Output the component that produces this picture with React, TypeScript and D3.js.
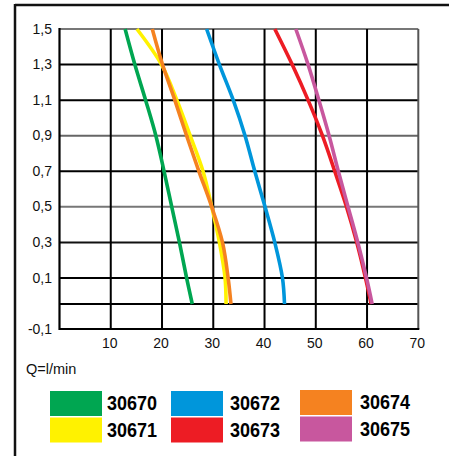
import React from "react";
import * as d3 from "d3";

const xTicks = [10, 20, 30, 40, 50, 60, 70];
const yTicks = [1.5, 1.3, 1.1, 0.9, 0.7, 0.5, 0.3, 0.1, -0.1];
const yTickLabels = ["1,5", "1,3", "1,1", "0,9", "0,7", "0,5", "0,3", "0,1", "-0,1"];
const gridY = [1.5, 1.3, 1.1, 0.9, 0.7, 0.5, 0.3, 0.1, 0];
const gridYColors = ["#777", "#000", "#000", "#666", "#000", "#777", "#111", "#000", "#000"];
const xLabel = "Q=l/min";

const heads = [0, 0.1, 0.3, 0.5, 0.7, 0.9, 1.1, 1.3, 1.5];

const q30670 = [25.9, 24.8, 23.4, 21.9, 20.4, 18.8, 16.8, 14.7, 12.8];
const q30671 = [32.5, 32.3, 31.2, 29.7, 28.0, 25.5, 22.9, 19.9, 15.1];
const q30672 = [43.9, 43.5, 42.0, 40.1, 38.1, 36.2, 33.9, 31.2, 28.7];
const q30673 = [60.8, 59.7, 58.0, 56.0, 53.7, 51.3, 48.5, 45.4, 42.0];
const q30674 = [33.45, 32.9, 31.8, 29.7, 27.2, 24.8, 22.5, 20.1, 18.1];
const q30675 = [61.0, 59.9, 58.2, 56.3, 54.4, 52.6, 50.6, 48.5, 46.1];

const seriesNames = ["30670", "30671", "30672", "30673", "30674", "30675"];
const seriesColors = ["#00A651", "#FFF200", "#0096DB", "#ED1C24", "#F58220", "#C8579E"];
const seriesData = [q30670, q30671, q30672, q30673, q30674, q30675];
const drawOrder = [0, 1, 2, 3, 4, 5];

export default function App() {
  const x = d3.scaleLinear().domain([0, 70]).range([59.5, 418.3]);
  const y = d3.scaleLinear().domain([-0.1, 0, 0.1, 1.5]).range([329, 304, 278, 29]);

  const line = d3
    .line<[number, number]>()
    .x((d) => x(d[0]))
    .y((d) => y(d[1]))
    .curve(d3.curveCatmullRom.alpha(0.5));

  const legendPos = [
    { sx: 50, sy: 391, tx: 107, ty: 410 },
    { sx: 50, sy: 417.5, tx: 107, ty: 436.5 },
    { sx: 171, sy: 391, tx: 230, ty: 410 },
    { sx: 171, sy: 417.5, tx: 230, ty: 436.5 },
    { sx: 300, sy: 390, tx: 360, ty: 409 },
    { sx: 300, sy: 416.5, tx: 360, ty: 436 },
  ];

  return (
    <svg
      width={449}
      height={456}
      style={{ position: "absolute", left: 0, top: 0 }}
      fontFamily="'Liberation Sans', Arial, sans-serif"
    >
      <rect x={0} y={0} width={449} height={456} fill="#fff" />
      <line x1={15} x2={449} y1={5} y2={5} stroke="#111" strokeWidth={2.5} />
      <line x1={15} x2={15} y1={4} y2={456} stroke="#111" strokeWidth={2.5} />

      {gridY.map((v, i) => (
        <line
          key={"h" + i}
          x1={x(0)}
          x2={x(70)}
          y1={y(v)}
          y2={y(v)}
          stroke={gridYColors[i]}
          strokeWidth={2}
        />
      ))}
      {xTicks.map((t) => (
        <line
          key={"v" + t}
          x1={x(t)}
          x2={x(t)}
          y1={y(1.5)}
          y2={y(-0.1)}
          stroke={t === 70 ? "#555" : "#000"}
          strokeWidth={2}
        />
      ))}
      <line x1={x(0)} x2={x(0)} y1={y(1.5) - 1} y2={y(-0.1) + 1} stroke="#000" strokeWidth={2.2} />
      <line x1={x(0)} x2={x(70) + 1} y1={y(-0.1)} y2={y(-0.1)} stroke="#000" strokeWidth={2.2} />

      {drawOrder.map((si) => {
        const pts: [number, number][] = heads.map((h, k) => [seriesData[si][k], h]);
        return (
          <path
            key={"c" + si}
            d={line(pts) || ""}
            fill="none"
            stroke={seriesColors[si]}
            strokeWidth={3.6}
          />
        );
      })}

      {yTicks.map((t, i) => (
        <text key={"yl" + i} x={52} y={y(t) + 4.5} textAnchor="end" fontSize={14} fill="#111">
          {yTickLabels[i]}
        </text>
      ))}
      {xTicks.map((t) => (
        <text key={"xl" + t} x={x(t) - 1} y={348} textAnchor="middle" fontSize={14} fill="#111">
          {t}
        </text>
      ))}
      <text x={26} y={373.5} fontSize={14.5} fill="#111">
        {xLabel}
      </text>

      {seriesNames.map((n, i) => {
        const p = legendPos[i];
        return (
          <g key={"lg" + i}>
            <rect x={p.sx} y={p.sy} width={52} height={25} fill={seriesColors[i]} />
            <text
              x={p.tx}
              y={p.ty}
              fontSize={21}
              fontWeight="bold"
              fill="#000"
              textLength={50}
              lengthAdjust="spacingAndGlyphs"
            >
              {n}
            </text>
          </g>
        );
      })}
    </svg>
  );
}
